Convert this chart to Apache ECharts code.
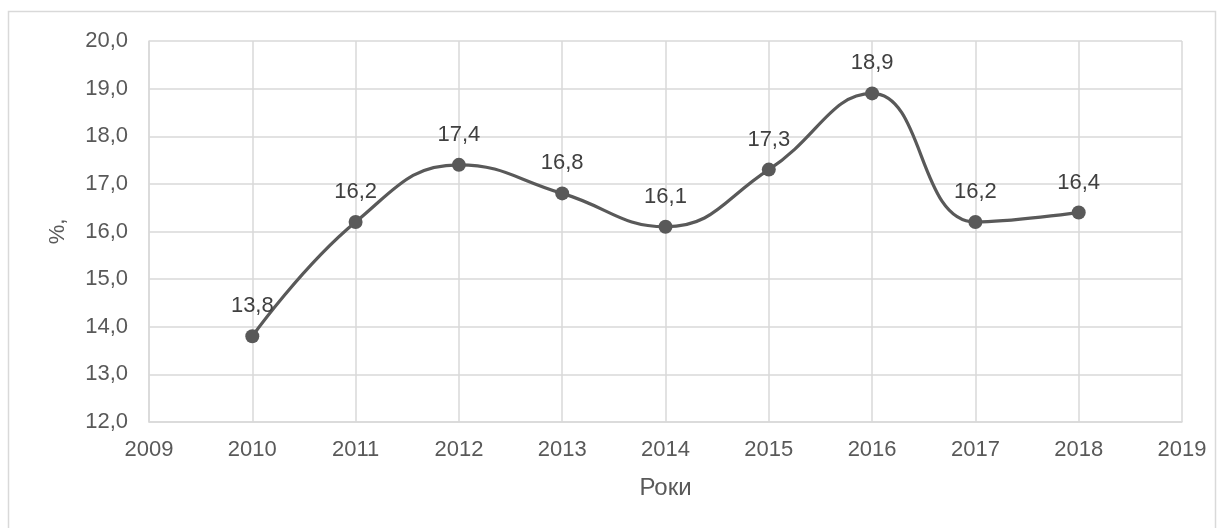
<!DOCTYPE html>
<html><head><meta charset="utf-8">
<script src="https://cdn.jsdelivr.net/npm/echarts@6/dist/echarts.min.js"></script>
<style>html,body{margin:0;padding:0;background:#fff}#c{width:1224px;height:528px}</style>
</head><body><div id="c"></div>
<script>
const years = [2010, 2011, 2012, 2013, 2014, 2015, 2016, 2017, 2018];
const values = [13.8, 16.2, 17.4, 16.8, 16.1, 17.3, 18.9, 16.2, 16.4];
const xName = 'Роки';
const yName = '%,';
const fmt = v => v.toFixed(1).replace('.', ',');
const chart = echarts.init(document.getElementById('c'));
chart.setOption({
  animation: false,
  textStyle: { fontFamily: 'Liberation Sans, Arial, sans-serif' },
  graphic: [{ type: 'rect', shape: { x: 8.5, y: 11.5, width: 1207, height: 530 }, style: { fill: 'none', stroke: '#d9d9d9', lineWidth: 1.5 }, silent: true }],
  grid: { left: 149, right: 42, top: 41, bottom: 106 },
  xAxis: {
    type: 'value', min: 2009, max: 2019, interval: 1,
    name: xName, nameLocation: 'middle', nameGap: 54,
    nameTextStyle: { fontSize: 24, color: '#595959' },
    axisLine: { show: true, lineStyle: { color: '#d9d9d9', width: 1.5 } },
    axisTick: { show: false },
    splitLine: { show: true, lineStyle: { color: '#d9d9d9', width: 1.5 } },
    axisLabel: { fontSize: 22, color: '#595959', margin: 17, formatter: v => String(v) }
  },
  yAxis: {
    type: 'value', min: 12, max: 20, interval: 1,
    name: yName, nameLocation: 'middle', nameGap: 80, nameRotate: 90,
    nameTextStyle: { fontSize: 22, color: '#595959' },
    axisLine: { show: true, lineStyle: { color: '#d9d9d9', width: 1.5 } },
    axisTick: { show: false },
    splitLine: { show: true, lineStyle: { color: '#d9d9d9', width: 1.5 } },
    axisLabel: { fontSize: 22, color: '#595959', margin: 21, formatter: v => fmt(v) }
  },
  series: [{
    type: 'line',
    data: years.map((y, i) => [y, values[i]]),
    smooth: 0.45,
    symbol: 'circle', symbolSize: 14,
    lineStyle: { color: '#595959', width: 3.2 },
    itemStyle: { color: '#595959' },
    label: { show: true, position: 'top', distance: 12, fontSize: 22, color: '#404040', formatter: p => fmt(p.value[1]) }
  }]
});
</script></body></html>
